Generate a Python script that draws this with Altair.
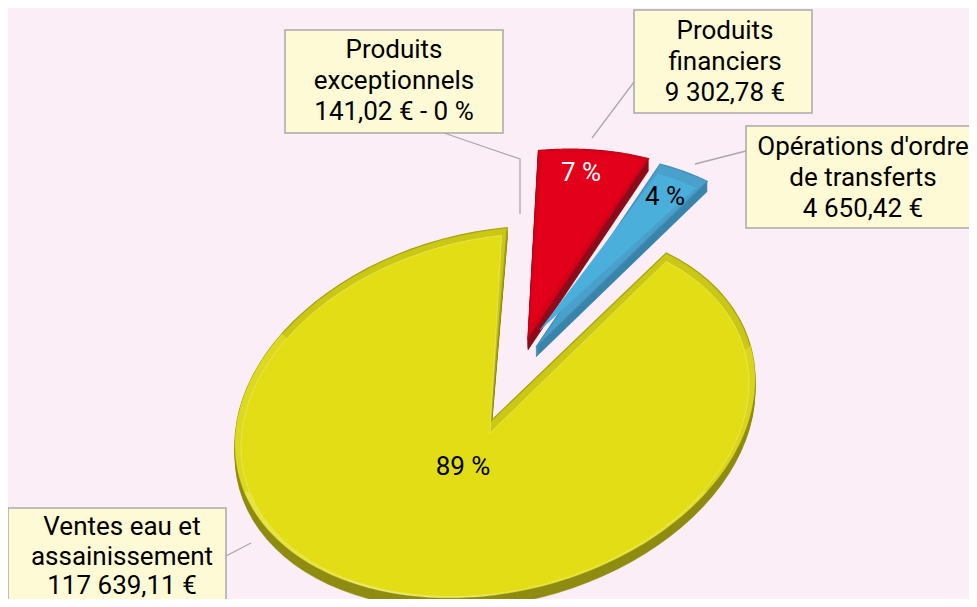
import math
import altair as alt
import pandas as pd

# ---- data
slice_names = ["Ventes eau et assainissement", "Produits exceptionnels", "Produits financiers", "Opérations d'ordre de transferts"]
slice_values = [117639.11, 141.02, 9302.78, 4650.42]
percent_labels = ["89 %", "7 %", "4 %"]
percent_x = [463, 581, 665]
percent_y = [467, 173, 197]
percent_colors = ["#000000", "#ffffff", "#000000"]

box_x = [285, 634, 746, 8]
box_x2 = [503, 812, 985, 226]
box_y = [30, 10, 126, 508]
box_y2 = [133, 113, 228, 620]
box_lines = [
    ["Produits", "exceptionnels", "141,02 € - 0 %"],
    ["Produits", "financiers", "9 302,78 €"],
    ["Opérations d'ordre", "de transferts", "4 650,42 €"],
    ["Ventes eau et", "assainissement", "117 639,11 €"],
]
box_text_x = [394, 725, 863, 122]
box_text_y = [[50, 81, 112], [31, 62, 93], [147, 178, 209], [527, 557, 586]]

leader_x = [[444, 520, 520], [634, 592], [746, 695], [226, 251]]
leader_y = [[133, 159, 214], [82, 138], [151, 164], [556, 543]]

FONT = "Roboto"
FS = 26
M = 8  # page margin
BG = "#fbeef6"

# ---- perspective ellipse of the pie
CX, CY = 495, 412
RX, SHEAR, RY = 260, -32.5, 183
START = -48.8


def ell(t, r=1.0, dx=0, dy=0):
    c, s = math.cos(math.radians(t)), math.sin(math.radians(t))
    return [CX + r * RX * c + dx - M, CY + r * (SHEAR * c + RY * s) + dy - M]


def arc(t0, t1, r=1.0, dx=0, dy=0, n=90):
    return [ell(t0 + (t1 - t0) * i / n, r, dx, dy) for i in range(n + 1)]


def feat(points, fill, stroke=None, sw=0.0):
    pts = points + [points[0]]
    return {
        "type": "Feature",
        "geometry": {"type": "Polygon", "coordinates": [pts]},
        "properties": {"c": fill, "s": stroke or fill, "w": sw},
    }


total = sum(slice_values)
spans = [v / total * 360 for v in slice_values]
yt0 = START
yt1 = yt0 + spans[0]
et1 = yt1 + spans[1]
rt1 = et1 + spans[2]
bt1 = rt1 + spans[3]

features = []


def slice_feats(t0, t1, apex, inner_apex, off, depth, side, rim, top, edge, r, trim, shift=0, rim_segs=()):
    outer = [[apex[0] - M, apex[1] - M]] + arc(t0, t1, 1.0, off[0], off[1])
    for d in range(depth, 0, -1):
        features.append(feat([[x, y + d] for x, y in outer], side, side, 0.5))
    features.append(feat(outer, rim, edge, 1.2))
    for a, b, col in rim_segs:
        band = arc(a, b, 1.0, off[0], off[1], 30) + arc(b, a, r, off[0], off[1] + shift, 30)
        features.append(feat(band, col))
    inner = [[inner_apex[0] - M, inner_apex[1] - M]] + arc(t0 + trim, t1 - trim, r, off[0], off[1] + shift)
    features.append(feat(inner, top, "#f1ee7a" if top == "#e2dd15" else top, 0.6))


yellow_rim = [
    (yt0 + 38, 35, "#d9d51a"),
    (35, 90, "#e4e135"),
    (90, 125, "#ebe977"),
    (125, 165, "#e6e445"),
    (165, 215, "#dcd920"),
]
slice_feats(yt0, yt1, (491, 421), (490, 433), (0, 0), 11, "#8f8c12", "#cbc715", "#e2dd15", "#a5a20f", 0.977, 1.2, 3, yellow_rim)
slice_feats(et1, rt1, (528, 338), (530, 325), (29.5, -77), 12, "#8c0f1c", "#d60019", "#e2001a", "#c20018", 0.985, 1.0)
slice_feats(rt1, bt1, (536, 347), (540, 330), (41, -71.5), 10, "#3a85aa", "#4a9fcb", "#4bafdc", "#3f8fb8", 0.95, 1.0)

pie = (
    alt.Chart(alt.Data(values=features))
    .mark_geoshape()
    .encode(
        fill=alt.Fill("properties.c:N", scale=None),
        stroke=alt.Stroke("properties.s:N", scale=None),
        strokeWidth=alt.StrokeWidth("properties.w:Q", scale=None),
    )
    .project(type="identity", scale=1, translate=[0, 0])
)

leader_df = pd.DataFrame(
    [
        {"g": i, "o": j, "x": x - M, "y": y - M}
        for i, (xs, ys) in enumerate(zip(leader_x, leader_y))
        for j, (x, y) in enumerate(zip(xs, ys))
    ]
)
leaders = (
    alt.Chart(leader_df)
    .mark_line(color="#a8a8a8", strokeWidth=1.3)
    .encode(
        x=alt.X("x:Q", scale=None, axis=None),
        y=alt.Y("y:Q", scale=None, axis=None),
        detail="g:N",
        order="o:Q",
    )
)

box_df = pd.DataFrame(
    {
        "x": [v - M for v in box_x],
        "x2": [v - M for v in box_x2],
        "y": [v - M for v in box_y],
        "y2": [v - M for v in box_y2],
    }
)
boxes = (
    alt.Chart(box_df)
    .mark_rect(fill="#fffad6", stroke="#a9a9a9", strokeWidth=1.5)
    .encode(
        x=alt.X("x:Q", scale=None, axis=None),
        x2="x2:Q",
        y=alt.Y("y:Q", scale=None, axis=None),
        y2="y2:Q",
    )
)

text_df = pd.DataFrame(
    [
        {"t": line, "x": box_text_x[i] - M, "y": box_text_y[i][j] - M}
        for i, lines in enumerate(box_lines)
        for j, line in enumerate(lines)
    ]
)
texts = (
    alt.Chart(text_df)
    .mark_text(font=FONT, fontSize=FS, color="#000000", align="center", baseline="middle")
    .encode(
        x=alt.X("x:Q", scale=None, axis=None),
        y=alt.Y("y:Q", scale=None, axis=None),
        text="t:N",
    )
)

pct_df = pd.DataFrame(
    {
        "t": percent_labels,
        "x": [v - M for v in percent_x],
        "y": [v - M for v in percent_y],
        "c": percent_colors,
    }
)
pcts = (
    alt.Chart(pct_df)
    .mark_text(font=FONT, fontSize=FS, align="center", baseline="middle")
    .encode(
        x=alt.X("x:Q", scale=None, axis=None),
        y=alt.Y("y:Q", scale=None, axis=None),
        text="t:N",
        color=alt.Color("c:N", scale=None),
    )
)

chart = (
    alt.layer(pie, leaders, boxes, texts, pcts)
    .properties(
        width=961,
        height=591,
        background=BG,
        padding=0,
        autosize=alt.AutoSizeParams(type="none"),
    )
    .configure_view(stroke=None)
)

chart.save("out.html", embed_options={"renderer": "svg", "actions": False})
